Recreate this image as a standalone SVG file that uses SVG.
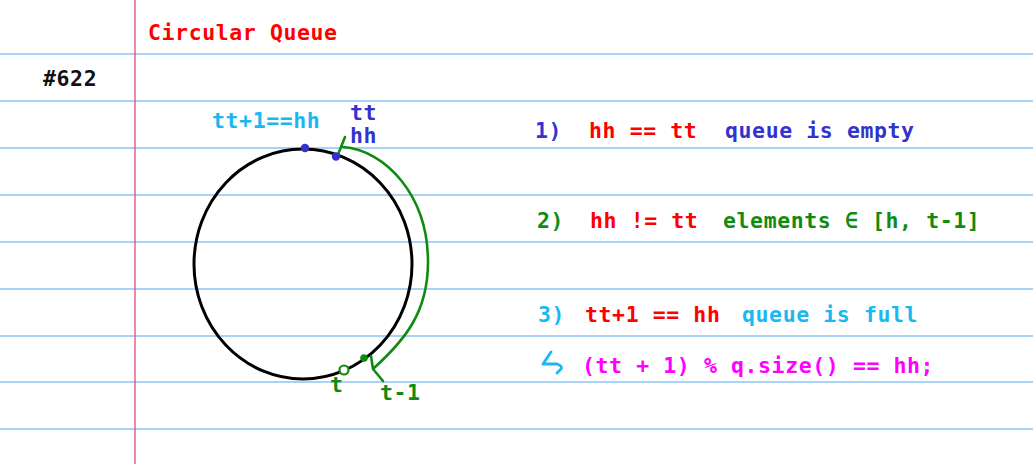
<svg xmlns="http://www.w3.org/2000/svg" width="1033" height="464" viewBox="0 0 1033 464">
<style>
.rule{stroke:#8cc3f5;stroke-width:1.3}
.t{font-family:"DejaVu Sans Mono","Liberation Mono",monospace;font-weight:bold;font-size:21.5px;letter-spacing:0.6px}
.red{fill:#ff0000}.blue{fill:#3333cc}.green{fill:#118a11}.cyan{fill:#1ab8f0}.mag{fill:#ff00ff}.blk{fill:#111}
</style>
<rect width="1033" height="464" fill="#fff"/>
<g id="paper">
<line class="rule" x1="0" y1="54" x2="1033" y2="54"/>
<line class="rule" x1="0" y1="101" x2="1033" y2="101"/>
<line class="rule" x1="0" y1="148" x2="1033" y2="148"/>
<line class="rule" x1="0" y1="195" x2="1033" y2="195"/>
<line class="rule" x1="0" y1="242" x2="1033" y2="242"/>
<line class="rule" x1="0" y1="289" x2="1033" y2="289"/>
<line class="rule" x1="0" y1="336" x2="1033" y2="336"/>
<line class="rule" x1="0" y1="382" x2="1033" y2="382"/>
<line class="rule" x1="0" y1="429" x2="1033" y2="429"/>
<line x1="135" y1="0" x2="135" y2="464" stroke="#e04a8c" stroke-width="1.3"/>
</g>
<g id="title"><text class="t red" x="148" y="40">Circular Queue</text></g>
<g id="number"><text class="t blk" x="43" y="86">#622</text></g>
<g id="circle">
<ellipse cx="303" cy="264" rx="109" ry="115" fill="none" stroke="#000" stroke-width="3"/>
</g>
<g id="connectors" fill="none" stroke="#118a11" stroke-width="2.6" stroke-linecap="round" stroke-linejoin="round">
<line x1="337" y1="157" x2="345" y2="137"/>
<path d="M343,147 C385,150 428,195 428,262 C428,312 405,340 374,368"/>
<polyline points="371,356 373,369 383,381"/>
</g>
<g id="points">
<circle cx="305" cy="148" r="4.2" fill="#3333cc"/>
<circle cx="336" cy="156.5" r="4.2" fill="#3333cc"/>
<circle cx="364" cy="358" r="3.8" fill="#118a11"/>
<circle cx="344" cy="370" r="4.5" fill="#fff" stroke="#118a11" stroke-width="2.2"/>
</g>
<g id="labels">
<text class="t cyan" x="212" y="128">tt+1==hh</text>
<text class="t blue" x="350" y="120">tt</text>
<text class="t blue" x="350" y="143">hh</text>
<text class="t green" x="330" y="392">t</text>
<text class="t green" x="380" y="400">t-1</text>
</g>
<g id="rule1">
<text class="t blue" x="535" y="138">1)</text>
<text class="t red" x="589" y="138">hh == tt</text>
<text class="t blue" x="725" y="138">queue is empty</text>
</g>
<g id="rule2">
<text class="t green" x="537" y="228">2)</text>
<text class="t red" x="590" y="228">hh != tt</text>
<text class="t green" x="723" y="228">elements ∈ [h, t-1]</text>
</g>
<g id="rule3">
<text class="t cyan" x="538" y="322">3)</text>
<text class="t red" x="585" y="322">tt+1 == hh</text>
<text class="t cyan" x="742" y="322">queue is full</text>
</g>
<g id="code">
<path d="M551,352 L543,364 L557,364 Q563,366 561,369 L557,373" fill="none" stroke="#1ab8f0" stroke-width="2.8" stroke-linecap="round" stroke-linejoin="round"/>
<text class="t mag" x="582" y="373">(tt + 1) % q.size() == hh;</text>
</g>
</svg>
